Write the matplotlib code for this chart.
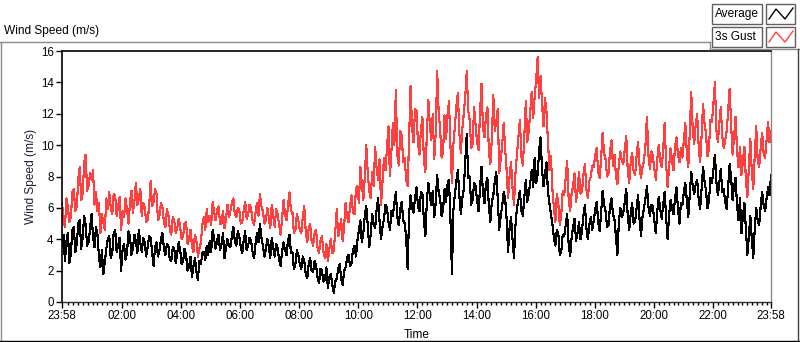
import numpy as np
import matplotlib
matplotlib.use("Agg")
import matplotlib.pyplot as plt
import matplotlib.ticker as ticker
from matplotlib.lines import Line2D
from matplotlib.patches import Rectangle

plt.rcParams['font.family'] = ['Liberation Sans', 'DejaVu Sans']

# wind speed (m/s), one value every 3 minutes from 23:58 to 23:58 (one row per hour)
avg_vals = [
    3.6, 4.3, 2.6, 3.9, 4.4, 2.5, 3.1, 4.6, 4.8, 3.2, 3.7, 5.0, 5.2, 3.4, 4.1, 5.5, 4.9, 3.6, 3.8, 4.7,
    5.6, 4.2, 3.5, 4.8, 4.3, 2.9, 2.2, 3.3, 1.8, 2.6, 3.4, 4.0, 4.2, 2.8, 3.1, 4.4, 4.6, 3.2, 3.6, 4.1,
    2.0, 3.3, 3.7, 2.7, 3.1, 4.5, 4.2, 3.0, 3.4, 4.3, 3.9, 3.1, 4.6, 3.8, 3.2, 4.1, 3.8, 2.9, 3.5, 4.2,
    4.1, 3.2, 2.3, 3.5, 3.8, 2.9, 3.3, 4.0, 4.4, 3.4, 3.0, 3.7, 3.6, 2.7, 2.6, 3.5, 3.4, 2.5, 3.1, 3.8,
    3.3, 2.4, 2.6, 3.4, 3.0, 2.0, 2.2, 2.9, 1.6, 2.3, 2.8, 1.9, 1.4, 2.6, 2.4, 3.1, 3.2, 2.7, 3.6, 3.0,
    3.9, 3.2, 4.6, 4.0, 3.4, 3.9, 4.3, 3.3, 3.7, 4.4, 2.8, 3.4, 4.0, 3.6, 3.5, 4.2, 4.8, 3.9, 3.6, 4.5,
    4.2, 3.5, 3.1, 3.9, 4.5, 3.3, 3.6, 4.1, 3.9, 3.2, 2.8, 3.7, 4.4, 3.8, 5.0, 4.1, 3.6, 2.9, 3.3, 4.0,
    3.6, 2.8, 4.1, 3.5, 2.9, 3.7, 3.4, 2.7, 2.3, 3.2, 3.8, 3.3, 3.0, 3.9, 4.3, 3.1, 3.2, 2.1, 2.4, 3.3,
    3.0, 2.4, 2.1, 2.9, 2.6, 1.8, 1.5, 2.4, 2.8, 2.0, 1.9, 2.6, 2.3, 1.6, 1.2, 2.1, 2.0, 1.3, 1.4, 2.2,
    0.9, 1.6, 1.8, 1.1, 0.6, 1.3, 1.5, 2.1, 2.4, 1.5, 1.1, 2.0, 2.2, 2.8, 3.0, 2.3, 2.5, 3.3, 3.6, 2.9,
    3.9, 4.6, 5.2, 3.8, 4.4, 5.5, 6.1, 4.9, 3.5, 4.3, 5.6, 5.0, 4.7, 5.9, 6.6, 5.1, 4.0, 4.8, 5.3, 6.2,
    6.0, 5.1, 4.6, 5.8, 5.5, 6.3, 7.0, 5.4, 4.9, 5.9, 6.4, 5.2, 5.0, 4.1, 2.1, 5.6, 6.8, 6.0, 5.7, 6.6,
    7.3, 6.1, 5.8, 7.0, 6.9, 5.2, 4.2, 6.4, 7.6, 6.8, 6.2, 7.1, 5.4, 6.3, 8.1, 7.0, 6.6, 5.5, 5.9, 7.2,
    6.4, 7.5, 7.8, 5.2, 1.8, 5.9, 6.9, 7.7, 8.4, 6.8, 5.6, 6.6, 7.2, 8.9, 10.7, 7.9, 8.0, 6.2, 6.5, 7.6,
    7.4, 6.5, 5.8, 7.2, 8.6, 7.0, 6.3, 7.5, 7.9, 6.1, 5.1, 6.4, 6.8, 7.7, 8.3, 6.6, 4.6, 5.5, 6.1, 7.0,
    6.6, 5.3, 3.2, 4.7, 5.4, 4.0, 2.8, 4.9, 6.0, 6.5, 7.1, 5.8, 5.5, 6.7, 7.8, 6.4, 6.9, 7.6, 8.4, 7.3,
    9.2, 7.6, 8.1, 9.6, 10.5, 8.4, 7.4, 8.2, 8.9, 7.0, 6.3, 5.6, 5.0, 4.1, 3.6, 4.6, 4.4, 3.0, 3.2, 4.3,
    4.2, 4.9, 5.6, 3.7, 2.9, 4.1, 4.8, 5.3, 3.9, 4.4, 5.1, 4.0, 4.5, 5.5, 6.2, 4.7, 4.0, 4.9, 5.4, 4.6,
    5.2, 5.9, 6.4, 5.1, 4.5, 5.7, 7.1, 6.2, 5.8, 4.8, 4.9, 6.1, 6.6, 5.6, 5.3, 4.2, 3.0, 5.1, 6.0, 5.4,
    5.7, 6.4, 7.2, 5.5, 4.6, 5.6, 6.3, 5.0, 5.1, 6.0, 6.8, 5.3, 4.2, 5.4, 6.0, 6.6, 7.4, 6.1, 5.5, 6.2,
    6.1, 5.2, 4.4, 5.8, 6.7, 5.9, 5.3, 6.2, 7.0, 5.4, 4.0, 5.5, 6.5, 6.0, 5.6, 6.6, 7.3, 6.0, 5.0, 6.3,
    6.2, 7.0, 7.6, 6.5, 5.4, 6.8, 8.3, 7.4, 6.9, 7.5, 7.8, 6.6, 5.9, 7.2, 8.6, 7.7, 7.1, 6.0, 6.4, 7.9,
    7.6, 8.4, 9.4, 7.7, 6.8, 7.6, 8.5, 7.0, 7.2, 6.4, 5.9, 7.3, 8.8, 7.9, 6.5, 7.4, 7.9, 6.2, 5.2, 6.6,
    4.4, 5.5, 6.3, 4.6, 3.0, 4.2, 5.5, 4.0, 2.8, 4.7, 6.0, 5.2, 4.9, 6.1, 7.0, 6.2, 5.8, 6.6, 7.3, 6.8,
    8.1,
]
gust_vals = [
    6.4, 5.2, 4.8, 6.6, 6.0, 5.1, 5.4, 7.0, 7.2, 5.8, 6.1, 7.8, 8.6, 6.5, 6.9, 8.9, 9.4, 7.1, 7.4, 8.2,
    7.8, 8.4, 6.2, 7.0, 5.8, 6.3, 4.4, 5.6, 5.1, 4.6, 6.6, 5.9, 7.0, 6.0, 5.6, 6.9, 6.8, 5.5, 6.1, 6.7,
    4.6, 5.8, 5.4, 6.6, 5.9, 5.0, 6.3, 7.1, 5.7, 6.4, 7.6, 6.2, 6.6, 7.2, 5.5, 6.3, 6.0, 5.1, 5.2, 6.1,
    7.7, 6.1, 6.4, 7.2, 6.9, 5.2, 5.5, 6.3, 6.0, 5.1, 4.8, 5.9, 5.6, 4.6, 4.3, 5.4, 5.2, 4.4, 4.7, 5.3,
    4.8, 4.0, 4.2, 5.0, 5.1, 3.7, 4.0, 4.6, 3.6, 3.2, 4.3, 3.9, 2.9, 3.4, 3.8, 4.9, 5.4, 4.6, 5.9, 5.1,
    5.5, 4.9, 6.4, 5.7, 5.2, 5.9, 6.1, 5.0, 5.0, 5.8, 4.7, 5.3, 6.2, 5.4, 5.8, 6.3, 6.6, 5.6, 5.4, 6.0,
    5.9, 5.0, 5.1, 5.8, 6.4, 5.3, 5.6, 6.2, 6.0, 5.2, 4.9, 5.7, 6.3, 5.5, 6.9, 6.1, 5.8, 5.0, 5.2, 6.0,
    5.4, 4.7, 6.2, 5.5, 4.8, 5.9, 5.6, 4.9, 4.3, 5.3, 6.5, 5.6, 5.2, 6.1, 7.0, 5.8, 5.7, 4.4, 4.6, 5.6,
    5.2, 4.6, 4.4, 5.4, 6.1, 4.5, 3.8, 4.7, 5.0, 3.9, 3.6, 4.4, 4.6, 3.5, 3.1, 3.9, 4.2, 3.2, 2.8, 3.7,
    2.6, 3.4, 4.0, 3.1, 3.3, 4.5, 5.9, 4.2, 4.6, 5.3, 3.9, 4.8, 6.3, 5.4, 5.1, 6.1, 6.8, 5.7, 5.6, 7.2,
    7.4, 6.3, 8.6, 7.5, 6.5, 8.0, 10.0, 8.2, 7.1, 6.6, 8.3, 7.4, 9.9, 8.5, 7.8, 9.1, 6.2, 7.7, 9.2, 8.4,
    9.8, 11.2, 8.0, 9.6, 11.4, 10.0, 13.5, 9.4, 8.7, 10.9, 10.6, 8.9, 9.2, 7.8, 7.4, 10.4, 13.8, 11.1, 10.2, 12.3,
    12.2, 10.1, 9.4, 11.0, 11.8, 9.0, 8.3, 10.6, 12.9, 11.3, 10.3, 12.0, 9.1, 10.8, 14.7, 12.1, 11.0, 9.2, 9.6, 11.9,
    10.4, 11.9, 12.8, 9.9, 7.6, 10.1, 11.2, 12.5, 13.3, 10.8, 9.5, 11.0, 12.0, 13.1, 14.7, 12.2, 11.6, 9.8, 10.1, 12.4,
    11.3, 10.2, 9.7, 12.0, 13.9, 11.1, 10.5, 11.8, 12.4, 9.6, 8.8, 10.4, 13.2, 10.9, 11.5, 12.3, 8.2, 9.1, 10.0, 11.4,
    9.8, 8.4, 6.6, 8.0, 8.9, 7.3, 6.2, 8.2, 9.4, 10.5, 11.6, 9.3, 8.7, 10.6, 12.8, 10.2, 10.9, 12.1, 13.4, 11.7,
    13.1, 14.2, 15.6, 13.0, 14.4, 12.6, 11.2, 13.0, 12.1, 10.3, 8.4, 9.3, 7.2, 6.0, 5.1, 6.9, 6.3, 4.9, 5.6, 7.1,
    6.8, 7.9, 9.0, 6.6, 5.8, 6.9, 7.4, 8.2, 6.4, 7.1, 8.3, 6.9, 7.0, 8.1, 8.8, 7.2, 6.6, 7.7, 8.0, 8.7,
    8.6, 9.4, 9.8, 8.3, 7.9, 9.2, 10.8, 9.5, 9.1, 8.0, 8.2, 9.6, 10.3, 8.7, 9.4, 8.1, 7.5, 8.8, 9.6, 9.0,
    8.8, 9.7, 10.6, 8.4, 7.6, 8.9, 9.5, 8.3, 8.1, 9.3, 10.2, 8.7, 7.9, 8.6, 9.0, 10.0, 11.8, 9.4, 8.5, 9.6,
    9.3, 8.5, 7.8, 9.1, 10.0, 9.0, 8.6, 9.7, 11.4, 8.8, 7.3, 8.6, 9.8, 9.0, 8.4, 9.9, 10.5, 9.4, 8.9, 9.8,
    9.2, 10.3, 11.4, 9.5, 8.6, 10.8, 13.4, 11.0, 10.1, 11.3, 12.0, 10.0, 8.9, 10.6, 12.6, 11.4, 10.7, 9.3, 9.8, 11.6,
    11.5, 12.6, 14.0, 11.0, 10.2, 11.4, 12.4, 10.6, 9.8, 10.3, 10.9, 12.2, 13.6, 11.3, 9.4, 10.5, 11.8, 9.7, 8.6, 9.9,
    8.1, 9.0, 9.9, 7.8, 6.7, 8.5, 10.4, 8.3, 7.2, 9.4, 11.2, 9.0, 8.6, 9.8, 10.8, 9.5, 9.2, 10.3, 11.5, 10.2,
    10.9,
]
time_labels = ['23:58', '02:00', '04:00', '06:00', '08:00', '10:00', '12:00',
               '14:00', '16:00', '18:00', '20:00', '22:00', '23:58']
tick_minutes = [-2, 120, 240, 360, 480, 600, 720, 840, 960, 1080, 1200, 1320, 1438]

W, H = 800, 342
fig = plt.figure(figsize=(W / 100, H / 100), dpi=100)


def fx(px):
    return px / W


def fy(py):
    return 1 - py / H


# panel frame (LabVIEW style)
frame_col = '#8a8a8a'
fig.add_artist(Line2D([fx(0), fx(710)], [fy(42), fy(42)], color=frame_col, lw=1))
fig.add_artist(Line2D([fx(710), fx(710)], [fy(42), fy(49)], color=frame_col, lw=1))
fig.add_artist(Line2D([fx(710), fx(799)], [fy(49), fy(49)], color=frame_col, lw=1))
fig.add_artist(Line2D([fx(1), fx(1)], [fy(42), fy(340)], color=frame_col, lw=1))
fig.add_artist(Line2D([fx(798), fx(798)], [fy(49), fy(340)], color='#404040', lw=1))
fig.add_artist(Line2D([fx(0), fx(799)], [fy(340.5), fy(340.5)], color='black', lw=1))

fig.text(fx(4), fy(31), 'Wind Speed (m/s)', fontsize=8.6, ha='left', va='center')

# legend boxes
for i, (name, col) in enumerate([('Average', 'black'), ('3s Gust', '#ff4040')]):
    top = 4 + i * 23
    fig.add_artist(Rectangle((fx(712), fy(top + 20)), 50 / W, 20 / H, transform=fig.transFigure,
                             facecolor='white', edgecolor='#606060', lw=1))
    fig.add_artist(Rectangle((fx(766), fy(top + 20)), 29 / W, 20 / H, transform=fig.transFigure,
                             facecolor='white', edgecolor='#606060', lw=1))
    fig.text(fx(715), fy(top + 10), name, fontsize=8.6, ha='left', va='center')
    zx = [769, 776, 785, 793]
    zy = [top + 15, top + 5, top + 15, top + 4]
    fig.add_artist(Line2D([fx(v) for v in zx], [fy(v) for v in zy], color=col, lw=1))

ax = fig.add_axes([fx(62), fy(302), (771 - 62) / W, (302 - 51) / H])
t = np.linspace(-2, 1438, len(avg_vals))
ax.plot(t, gust_vals, color='#ff4040', lw=0.8, antialiased=False)
ax.plot(t, avg_vals, color='black', lw=0.8, antialiased=False)

ax.set_xlim(-2, 1438)
ax.set_ylim(0, 16)
ax.xaxis.set_major_locator(ticker.FixedLocator(tick_minutes))
ax.xaxis.set_major_formatter(ticker.FixedFormatter(time_labels))
ax.xaxis.set_minor_locator(ticker.FixedLocator([m for m in range(10, 1438, 10) if m % 120]))
ax.yaxis.set_major_locator(ticker.MultipleLocator(2))

for s in ['left', 'top']:
    ax.spines[s].set_color('black')
    ax.spines[s].set_linewidth(1.2)
ax.spines['right'].set_color('#8a8a8a')
ax.spines['bottom'].set_color('#303030')
ax.spines['right'].set_linewidth(1)
ax.spines['bottom'].set_linewidth(1)

ax.tick_params(axis='both', which='major', direction='out', length=4, width=1,
               colors='black', labelsize=8.3, pad=2)
ax.tick_params(axis='x', which='minor', direction='out', length=2.5, width=1, colors='black')

ax.set_xlabel('Time', fontsize=8.6, labelpad=5)
ax.set_ylabel('Wind Speed (m/s)', fontsize=8.6, color='#1e1e3c', labelpad=3)

fig.savefig('out.png', dpi=100)
